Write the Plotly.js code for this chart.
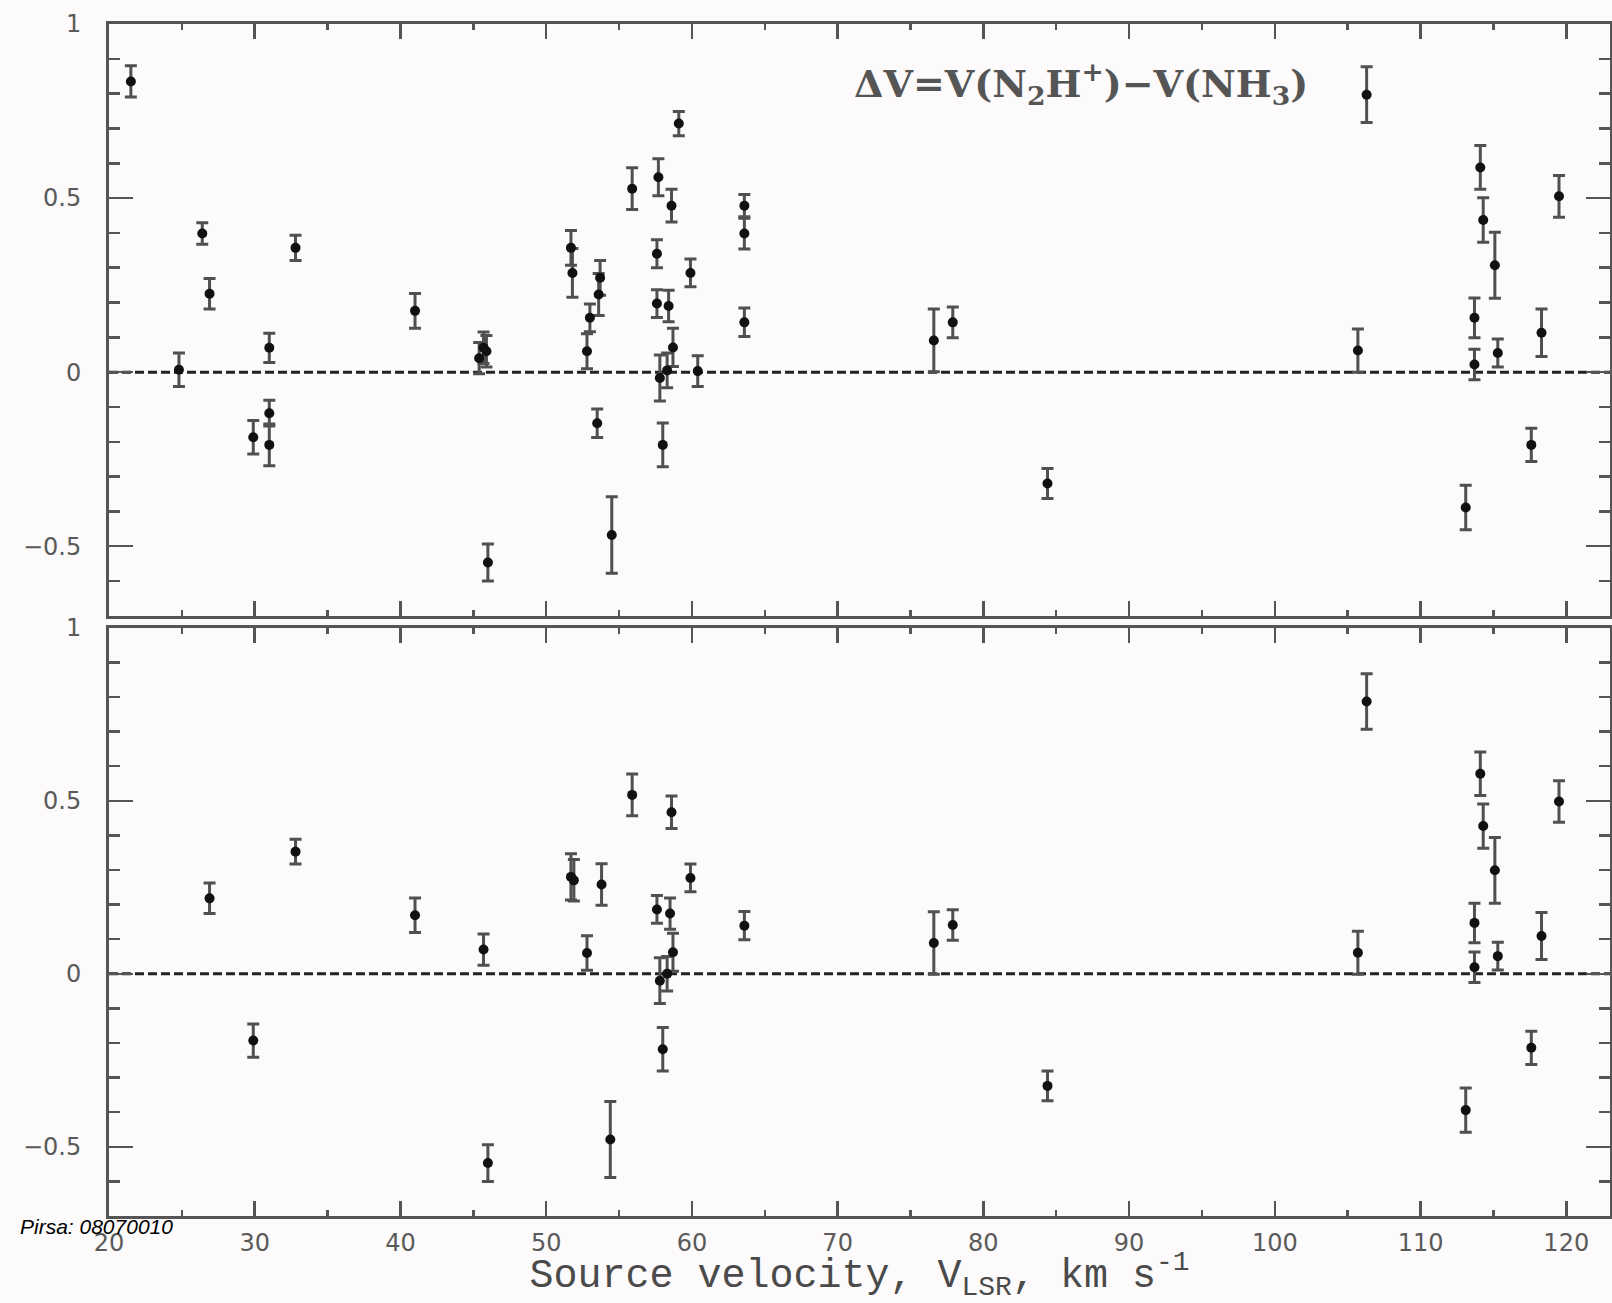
<!DOCTYPE html>
<html><head><meta charset="utf-8">
<script src="https://cdn.plot.ly/plotly-3.0.1.min.js"></script>
<style>html,body{margin:0;padding:0;background:#fcfafb;} #chart{width:1612px;height:1303px;}</style>
</head><body><div id="chart"></div>
<script>
// Upper panel: all sources
const topVel = [21.5, 24.8, 26.4, 26.9, 29.9, 31.0, 31.0, 31.0, 32.8, 41.0,
  45.4, 45.7, 45.9, 46.0, 51.7, 51.8, 52.8, 53.0, 53.7, 53.6, 53.5, 54.5, 55.9,
  57.7, 57.6, 57.6, 57.8, 58.0, 58.3, 58.4, 58.6, 58.7, 59.1, 59.9, 60.4,
  63.6, 63.6, 63.6, 76.6, 77.9, 84.4, 105.7, 106.3, 113.1, 113.7, 113.7,
  114.1, 114.3, 115.1, 115.3, 117.6, 118.3, 119.5];
const topDv = [0.835, 0.007, 0.398, 0.225, -0.187, 0.070, -0.118, -0.209, 0.357, 0.176,
  0.040, 0.070, 0.060, -0.547, 0.357, 0.285, 0.060, 0.156, 0.271, 0.223, -0.147, -0.468, 0.527,
  0.560, 0.340, 0.197, -0.017, -0.209, 0.005, 0.190, 0.478, 0.071, 0.714, 0.285, 0.003,
  0.478, 0.398, 0.143, 0.091, 0.143, -0.320, 0.062, 0.797, -0.389, 0.156, 0.022,
  0.588, 0.437, 0.307, 0.055, -0.209, 0.113, 0.505];
const topErr = [0.045, 0.048, 0.031, 0.044, 0.048, 0.042, 0.037, 0.060, 0.036, 0.050,
  0.045, 0.045, 0.045, 0.053, 0.050, 0.070, 0.050, 0.040, 0.050, 0.060, 0.041, 0.110, 0.060,
  0.053, 0.040, 0.040, 0.066, 0.063, 0.050, 0.045, 0.047, 0.055, 0.035, 0.040, 0.044,
  0.032, 0.044, 0.041, 0.090, 0.044, 0.043, 0.062, 0.080, 0.064, 0.057, 0.044,
  0.063, 0.064, 0.095, 0.040, 0.048, 0.068, 0.060];

// Lower panel: subset of sources
const botVel = [26.9, 29.9, 32.8, 41.0, 45.7, 46.0, 51.7, 51.9, 52.8, 53.8, 54.4, 55.9,
  57.6, 57.8, 58.0, 58.3, 58.5, 58.6, 58.7, 59.9, 63.6, 76.6, 77.9, 84.4,
  105.7, 106.3, 113.1, 113.7, 113.7, 114.1, 114.3, 115.1, 115.3, 117.6, 118.3, 119.5];
const botDv = [0.218, -0.193, 0.353, 0.169, 0.070, -0.547, 0.280, 0.270, 0.060, 0.258, -0.479, 0.517,
  0.186, -0.020, -0.218, 0.000, 0.174, 0.467, 0.062, 0.277, 0.139, 0.089, 0.141, -0.324,
  0.061, 0.787, -0.394, 0.147, 0.019, 0.578, 0.427, 0.299, 0.051, -0.214, 0.109, 0.498];
const botErr = [0.044, 0.048, 0.036, 0.050, 0.045, 0.053, 0.067, 0.060, 0.050, 0.060, 0.110, 0.060,
  0.040, 0.066, 0.063, 0.050, 0.045, 0.047, 0.055, 0.040, 0.041, 0.090, 0.044, 0.043,
  0.062, 0.080, 0.064, 0.057, 0.044, 0.063, 0.064, 0.095, 0.040, 0.048, 0.068, 0.060];

const xTickVals = [20, 30, 40, 50, 60, 70, 80, 90, 100, 110, 120];
const yTickVals = [-0.5, 0, 0.5, 1];
const yTickText = ['\u22120.5', '0', '0.5', '1'];

const lineCol = '#555';
const tickFont = {family: 'DejaVu Sans', size: 24, color: '#5a5a5a'};

function xAxis(extra) {
  return Object.assign({
    range: [20, 123], tickmode: 'array', tickvals: xTickVals,
    ticks: 'inside', ticklen: 15, tickwidth: 2.5, tickcolor: lineCol,
    mirror: 'ticks', showline: true, linecolor: lineCol, linewidth: 3,
    showgrid: false, zeroline: false, tickfont: tickFont,
    minor: {dtick: 5, tick0: 20, ticks: 'inside', ticklen: 6, tickwidth: 2.5, tickcolor: lineCol, showgrid: false}
  }, extra);
}
function yAxis(extra) {
  return Object.assign({
    range: [-0.7, 1], tickmode: 'array', tickvals: yTickVals, ticktext: yTickText,
    ticks: 'inside', ticklen: 24, tickwidth: 2.5, tickcolor: lineCol,
    mirror: 'ticks', showline: true, linecolor: lineCol, linewidth: 3,
    showgrid: false, zeroline: false, tickfont: tickFont, ticklabelstandoff: 20,
    minor: {dtick: 0.1, tick0: 0, ticks: 'inside', ticklen: 11, tickwidth: 2.5, tickcolor: lineCol, showgrid: false}
  }, extra);
}

const errStyle = {type: 'data', visible: true, color: '#505050', thickness: 3, width: 6};
const markStyle = {color: '#111', size: 10, symbol: 'circle'};

const traces = [
  {type: 'scatter', mode: 'markers', x: topVel, y: topDv,
   error_y: Object.assign({array: topErr}, errStyle), marker: markStyle,
   xaxis: 'x2', yaxis: 'y2', showlegend: false, hoverinfo: 'x+y'},
  {type: 'scatter', mode: 'markers', x: botVel, y: botDv,
   error_y: Object.assign({array: botErr}, errStyle), marker: markStyle,
   xaxis: 'x', yaxis: 'y', showlegend: false, hoverinfo: 'x+y'}
];

const layout = {
  width: 1612, height: 1303,
  margin: {l: 109, r: 2, t: 24, b: 87},
  paper_bgcolor: '#fcfafb', plot_bgcolor: '#fcfafb',
  xaxis: xAxis({anchor: 'y', domain: [0, 1], ticklabelstandoff: 3,
    title: {text: 'Source velocity, V<sub>LSR</sub>, km s<sup>-1</sup>',
            font: {family: 'Liberation Mono', size: 40, color: '#4a4a4a'}, standoff: 22}}),
  yaxis: yAxis({anchor: 'x', domain: [0, 0.4935]}),
  xaxis2: xAxis({anchor: 'y2', domain: [0, 1], matches: 'x', showticklabels: false}),
  yaxis2: yAxis({anchor: 'x2', domain: [0.5035, 1]}),
  shapes: [
    {type: 'line', xref: 'x2 domain', x0: 0, x1: 1, yref: 'y2', y0: 0, y1: 0, layer: 'below',
     line: {color: '#222', width: 3, dash: '9px,4px'}},
    {type: 'line', xref: 'x domain', x0: 0, x1: 1, yref: 'y', y0: 0, y1: 0, layer: 'below',
     line: {color: '#222', width: 3, dash: '9px,4px'}}
  ],
  annotations: [
    {xref: 'paper', yref: 'paper', x: 0.6476, y: 0.9497, xanchor: 'center', yanchor: 'middle',
     showarrow: false, text: '\u0394V=V(N<sub>2</sub>H<sup>+</sup>)\u2212V(NH<sub>3</sub>)',
     font: {family: 'DejaVu Serif', size: 38, color: '#555', weight: 'bold'}},
    {xref: 'paper', yref: 'paper', x: -0.0606, y: -0.0084, xanchor: 'left', yanchor: 'middle',
     showarrow: false, text: 'Pirsa: 08070010',
     font: {family: 'Liberation Sans', size: 21, color: '#000', style: 'italic'}}
  ]
};

Plotly.newPlot('chart', traces, layout, {displayModeBar: false, staticPlot: true});
</script></body></html>
